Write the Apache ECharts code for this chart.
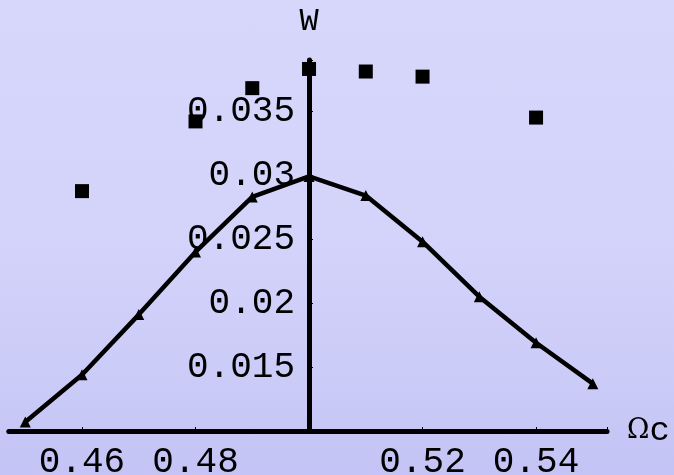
<!DOCTYPE html>
<html>
<head>
<meta charset="utf-8">
<script src="https://cdn.jsdelivr.net/npm/echarts@6/dist/echarts.min.js"></script>
<style>
html,body{margin:0;padding:0;}
#c{width:674px;height:475px;background:linear-gradient(to bottom,#d7d7fc 0%,#d4d4fb 45%,#cbcbf8 80%,#c3c3f5 100%);}
</style>
</head>
<body>
<div id="c"></div>
<script>
// Data
var lineX = [0.45, 0.46, 0.47, 0.48, 0.49, 0.50, 0.51, 0.52, 0.53, 0.54, 0.55];
var lineY = [0.0107, 0.0144, 0.0191, 0.0240, 0.0283, 0.0299, 0.0284, 0.0248, 0.0205, 0.0169, 0.0137];
var squareX = [0.46, 0.48, 0.49, 0.50, 0.51, 0.52, 0.54];
var squareY = [0.02875, 0.0342, 0.0368, 0.0383, 0.0381, 0.0377, 0.0345];
var xTickValues = [0.46, 0.48, 0.52, 0.54];
var xTickLabels = ['0.46', '0.48', '0.52', '0.54'];
var yTickValues = [0.015, 0.02, 0.025, 0.03, 0.035];
var yTickLabels = ['0.015', '0.02', '0.025', '0.03', '0.035'];
var xAxisName = 'Ωc';
var yAxisName = 'W';

var X_MIN = 0.44, X_MAX = 0.5525, X_LINE_START = 0.4471, X_CROSS = 0.50;
var Y_MIN = 0.01, Y_MAX = 0.039;

function labelFor(values, labels, v) {
  for (var i = 0; i < values.length; i++) {
    if (Math.abs(values[i] - v) < 1e-9) return labels[i];
  }
  return '';
}

var mono = '"Liberation Mono","DejaVu Sans Mono",monospace';
var chart = echarts.init(document.getElementById('c'), null, {renderer: 'canvas'});

chart.setOption({
  backgroundColor: 'transparent',
  animation: false,
  grid: [
    {left: -31.5, right: 67, top: 60, bottom: 44, containLabel: false, outerBoundsMode: 'none'},
    {left: 309, width: 100, top: 60, bottom: 44, containLabel: false, outerBoundsMode: 'none'}
  ],
  xAxis: [
    {
      type: 'value', gridIndex: 0, min: X_MIN, max: X_MAX, interval: 0.02,
      axisLine: {show: false},
      axisTick: {show: true, inside: true, length: 4, lineStyle: {color: '#000', width: 1}},
      minorTick: {show: false},
      splitLine: {show: false},
      axisLabel: {
        margin: 13, color: '#000', fontFamily: mono, fontSize: 36,
        formatter: function (v) { return labelFor(xTickValues, xTickLabels, v); }
      },
      name: '{o|Ω}{c|c}',
      nameLocation: 'end', nameGap: 20,
      nameTextStyle: {
        rich: {
          o: {fontFamily: '"DejaVu Serif","Liberation Serif",serif', fontSize: 27, color: '#000'},
          c: {fontFamily: mono, fontSize: 34, color: '#000'}
        }
      }
    },
    {type: 'value', gridIndex: 1, min: 0, max: 1, show: false}
  ],
  yAxis: [
    {type: 'value', gridIndex: 0, min: Y_MIN, max: Y_MAX, show: false},
    {
      type: 'value', gridIndex: 1, min: Y_MIN, max: Y_MAX, interval: 0.005, position: 'left',
      axisLine: {show: false},
      axisTick: {show: true, inside: true, length: 4, lineStyle: {color: '#000', width: 1}},
      splitLine: {show: false},
      axisLabel: {
        margin: 14, color: '#000', fontFamily: mono, fontSize: 36,
        formatter: function (v) { return labelFor(yTickValues, yTickLabels, v); }
      },
      name: yAxisName, nameLocation: 'end', nameGap: 22,
      nameTextStyle: {fontFamily: mono, fontSize: 32, color: '#000', align: 'center'}
    }
  ],
  series: [
    {
      type: 'line', xAxisIndex: 0, yAxisIndex: 0,
      data: lineX.map(function (x, i) { return [x, lineY[i]]; }),
      lineStyle: {color: '#000', width: 4.5},
      itemStyle: {color: '#000'},
      symbol: 'triangle', symbolSize: 11,
      z: 5,
      markLine: {
        silent: true, symbol: ['none', 'none'],
        label: {show: false},
        lineStyle: {color: '#000', width: 5, type: 'solid', cap: 'round'},
        data: [
          [{coord: [X_LINE_START, Y_MIN]}, {coord: [X_MAX, Y_MIN]}],
          [{coord: [X_CROSS, Y_MIN]}, {coord: [X_CROSS, Y_MAX]}]
        ]
      }
    },
    {
      type: 'scatter', xAxisIndex: 0, yAxisIndex: 0,
      data: squareX.map(function (x, i) { return [x, squareY[i]]; }),
      symbol: 'rect', symbolSize: 14,
      itemStyle: {color: '#000', opacity: 1},
      z: 6
    }
  ]
});
</script>
</body>
</html>
